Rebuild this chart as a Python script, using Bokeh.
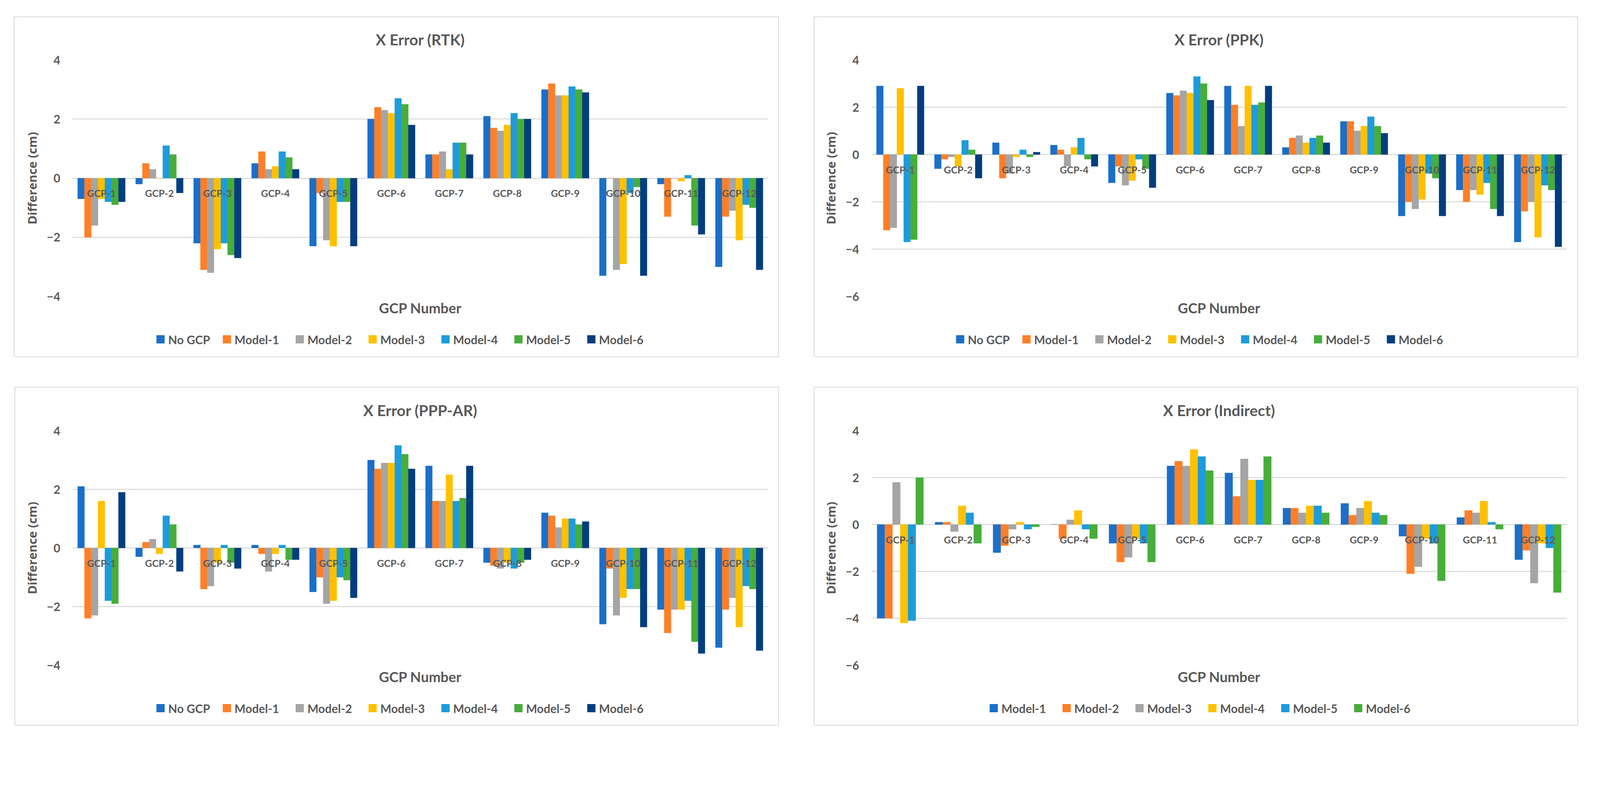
from bokeh.plotting import figure
from bokeh.models import (FactorRange, Range1d, Title, FixedTicker, ColumnDataSource)
from bokeh.transform import dodge
from bokeh.layouts import column, row
from bokeh.core.properties import value
from bokeh.embed import file_html
from bokeh.resources import INLINE

# ---------------- data ----------------
gcp = ["GCP-1", "GCP-2", "GCP-3", "GCP-4", "GCP-5", "GCP-6",
       "GCP-7", "GCP-8", "GCP-9", "GCP-10", "GCP-11", "GCP-12"]

series7 = ["No GCP", "Model-1", "Model-2", "Model-3", "Model-4", "Model-5", "Model-6"]
series6 = ["Model-1", "Model-2", "Model-3", "Model-4", "Model-5", "Model-6"]

# X Error (RTK)
rtk_no_gcp = [-0.7, -0.2, -2.2, 0.5, -2.3, 2.0, 0.8, 2.1, 3.0, -3.3, -0.2, -3.0]
rtk_m1 = [-2.0, 0.5, -3.1, 0.9, -0.5, 2.4, 0.8, 1.7, 3.2, 0.0, -1.3, -1.3]
rtk_m2 = [-1.6, 0.3, -3.2, 0.3, -2.1, 2.3, 0.9, 1.6, 2.8, -3.1, 0.0, -1.1]
rtk_m3 = [-0.7, 0.0, -2.4, 0.4, -2.3, 2.2, 0.3, 1.8, 2.8, -2.9, -0.1, -2.1]
rtk_m4 = [-0.8, 1.1, -2.2, 0.9, -0.8, 2.7, 1.2, 2.2, 3.1, -0.5, 0.1, -0.9]
rtk_m5 = [-0.9, 0.8, -2.6, 0.7, -0.8, 2.5, 1.2, 2.0, 3.0, -0.3, -1.6, -1.0]
rtk_m6 = [-0.8, -0.5, -2.7, 0.3, -2.3, 1.8, 0.8, 2.0, 2.9, -3.3, -1.9, -3.1]

# X Error (PPK)
ppk_no_gcp = [2.9, -0.6, 0.5, 0.4, -1.2, 2.6, 2.9, 0.3, 1.4, -2.6, -1.5, -3.7]
ppk_m1 = [-3.2, -0.2, -1.0, 0.2, -0.5, 2.5, 2.1, 0.7, 1.4, -2.0, -2.0, -2.4]
ppk_m2 = [-3.1, -0.1, -0.8, -0.5, -1.3, 2.7, 1.2, 0.8, 1.0, -2.3, -1.5, -2.0]
ppk_m3 = [2.8, -0.5, -0.1, 0.3, -1.1, 2.6, 2.9, 0.5, 1.2, -1.9, -1.7, -3.5]
ppk_m4 = [-3.7, 0.6, 0.2, 0.7, -0.2, 3.3, 2.1, 0.7, 1.6, -0.8, -1.2, -1.3]
ppk_m5 = [-3.6, 0.2, -0.1, -0.2, -0.6, 3.0, 2.2, 0.8, 1.2, -1.0, -2.3, -1.5]
ppk_m6 = [2.9, -1.0, 0.1, -0.5, -1.4, 2.3, 2.9, 0.5, 0.9, -2.6, -2.6, -3.9]

# X Error (PPP-AR)
ppp_no_gcp = [2.1, -0.3, 0.1, 0.1, -1.5, 3.0, 2.8, -0.5, 1.2, -2.6, -2.1, -3.4]
ppp_m1 = [-2.4, 0.2, -1.4, -0.2, -1.0, 2.7, 1.6, -0.6, 1.1, -0.7, -2.9, -2.1]
ppp_m2 = [-2.3, 0.3, -1.3, -0.8, -1.9, 2.9, 1.6, -0.7, 0.7, -2.3, -2.1, -1.7]
ppp_m3 = [1.6, -0.2, -0.5, -0.2, -1.8, 2.9, 2.5, -0.5, 1.0, -1.7, -2.1, -2.7]
ppp_m4 = [-1.8, 1.1, 0.1, 0.1, -1.0, 3.5, 1.6, -0.7, 1.0, -1.4, -1.8, -1.3]
ppp_m5 = [-1.9, 0.8, -0.5, -0.4, -1.1, 3.2, 1.7, -0.5, 0.8, -1.4, -3.2, -1.4]
ppp_m6 = [1.9, -0.8, -0.7, -0.4, -1.7, 2.7, 2.8, -0.4, 0.9, -2.7, -3.6, -3.5]

# X Error (Indirect)
ind_m1 = [-4.0, 0.1, -1.2, 0.0, -0.8, 2.5, 2.2, 0.7, 0.9, -0.5, 0.3, -1.5]
ind_m2 = [-4.0, 0.1, -0.9, -0.6, -1.6, 2.7, 1.2, 0.7, 0.4, -2.1, 0.6, -1.1]
ind_m3 = [1.8, -0.3, -0.2, 0.2, -1.4, 2.5, 2.8, 0.5, 0.7, -1.8, 0.5, -2.5]
ind_m4 = [-4.2, 0.8, 0.1, 0.6, -0.6, 3.2, 1.9, 0.8, 1.0, -0.6, 1.0, -0.8]
ind_m5 = [-4.1, 0.5, -0.2, -0.2, -0.8, 2.9, 1.9, 0.8, 0.5, -0.8, 0.1, -1.0]
ind_m6 = [2.0, -0.8, -0.1, -0.6, -1.6, 2.3, 2.9, 0.5, 0.4, -2.4, -0.2, -2.9]

ticks_4 = [-4, -2, 0, 2, 4]
ticks_6 = [-6, -4, -2, 0, 2, 4]

# ---------------- style ----------------
colors7 = ["#1B6FC8", "#FF7F27", "#A5A5A5", "#FFC000", "#1E9BDA", "#47AD3B", "#023E7D"]
colors6 = colors7[:6]
TXT = "#595959"
FONT = "Lato"
FRAME_W = 1781


def legend_strip(names, colors, borders, leg_h, start_x):
    """Horizontal key under a chart: coloured squares followed by labels."""
    lg = figure(frame_width=FRAME_W, frame_height=leg_h, title=None,
                x_range=Range1d(0, FRAME_W), y_range=Range1d(0, leg_h),
                x_axis_location=None, y_axis_location=None,
                output_backend="svg", toolbar_location=None,
                min_border_left=borders[0], min_border_right=borders[1],
                min_border_top=0, min_border_bottom=0)
    lg.outline_line_color = None
    lg.background_fill_color = "white"
    lg.border_fill_color = "white"
    lg.grid.grid_line_color = None
    box, gap, spacing, char_w = 21, 9, 39, 16.8
    xs, pos = [], start_x
    for name in names:
        xs.append(pos)
        pos += box + gap + char_w * len(name) + spacing
    yc = leg_h - 30
    lg.rect(x=[x + box / 2 for x in xs], y=[yc] * len(names),
            width=box, height=box, fill_color=colors, line_color=None)
    lg.text(x=[x + box + gap for x in xs], y=[yc] * len(names), text=names,
            text_align="left", text_baseline="middle",
            text_font=value(FONT), text_font_style="bold",
            text_font_size="30px", text_color=TXT)
    return lg


def make_panel(title, names, data, colors, ymin, ymax, ticks, group,
               fh, borders, leg_h, margin, legend_x):
    p = figure(frame_width=FRAME_W, frame_height=fh,
               x_range=FactorRange(*gcp, range_padding=0),
               y_range=Range1d(ymin, ymax),
               x_axis_location=None,
               output_backend="svg", toolbar_location=None,
               min_border_left=borders[0], min_border_right=borders[1],
               min_border_top=borders[2], min_border_bottom=borders[3])
    p.outline_line_color = None
    p.background_fill_color = "white"
    p.border_fill_color = "white"

    # title
    p.title.text = title
    p.title.text_font = FONT
    p.title.text_font_size = "39px"
    p.title.text_font_style = "bold"
    p.title.text_color = TXT
    p.title.align = "center"
    p.title.standoff = 60

    # y axis
    yax = p.yaxis[0]
    yax.ticker = FixedTicker(ticks=ticks)
    yax.major_label_overrides = {t: str(t).replace("-", "\u2212") for t in ticks}
    yax.major_tick_line_color = None
    yax.minor_tick_line_color = None
    yax.major_tick_out = 0
    yax.axis_line_color = None
    yax.major_label_standoff = 31
    yax.major_label_text_font = FONT
    yax.major_label_text_font_style = "bold"
    yax.major_label_text_font_size = "30px"
    yax.major_label_text_color = TXT
    yax.axis_label = "Difference (cm)"
    yax.axis_label_text_font = "Open Sans"
    yax.axis_label_text_font_style = "bold"
    yax.axis_label_text_font_size = "31px"
    yax.axis_label_text_color = TXT
    yax.axis_label_standoff = 14

    p.xgrid.grid_line_color = None
    p.ygrid.grid_line_color = "#d9d9d9"
    p.ygrid.grid_line_width = 2.3
    p.ygrid.ticker = FixedTicker(ticks=ticks)

    n = len(names)
    bw = group / n
    for j, (name, vals, col) in enumerate(zip(names, data, colors)):
        src = ColumnDataSource(dict(gcp=gcp, v=vals))
        off = (j - (n - 1) / 2) * bw
        p.vbar(x=dodge("gcp", off, range=p.x_range), top="v", bottom=0,
               width=bw, source=src, fill_color=col, line_color=col,
               line_width=0.5)

    # category labels drawn on the zero line, as in the original
    p.text(x=gcp, y=[0] * len(gcp), text=gcp, text_align="center",
           text_baseline="middle", y_offset=38,
           text_font=value(FONT), text_font_style="bold",
           text_font_size="25px", text_color=TXT)

    # axis title below
    xt = Title(text="GCP Number", align="center", text_font=FONT,
               text_font_size="36px", text_font_style="bold",
               text_color=TXT, standoff=10)
    p.add_layout(xt, "below")

    lg = legend_strip(names, colors, borders, leg_h, legend_x)

    return column(p, lg, margin=margin,
                  styles={"border": "2px solid #d9d9d9"})


b1 = make_panel("X Error (RTK)", series7,
                [rtk_no_gcp, rtk_m1, rtk_m2, rtk_m3, rtk_m4, rtk_m5, rtk_m6],
                colors7, -4, 4, ticks_4, 0.82, 605,
                (148, 26, 109, 80), 74, (42, 0, 0, 35), 215)
b2 = make_panel("X Error (PPK)", series7,
                [ppk_no_gcp, ppk_m1, ppk_m2, ppk_m3, ppk_m4, ppk_m5, ppk_m6],
                colors7, -6, 4, ticks_6, 0.82, 605,
                (145, 27, 109, 80), 74, (42, 0, 0, 89), 217)
b3 = make_panel("X Error (PPP-AR)", series7,
                [ppp_no_gcp, ppp_m1, ppp_m2, ppp_m3, ppp_m4, ppp_m5, ppp_m6],
                colors7, -4, 4, ticks_4, 0.82, 600,
                (146, 26, 110, 80), 73, (76, 0, 0, 37), 215)
b4 = make_panel("X Error (Indirect)", series6,
                [ind_m1, ind_m2, ind_m3, ind_m4, ind_m5, ind_m6],
                colors6, -6, 4, ticks_6, 0.80, 600,
                (145, 27, 110, 80), 73, (76, 0, 0, 89), 303)

layout = column(row(b1, b2), row(b3, b4))
open("out.html", "w").write(file_html(layout, INLINE))
